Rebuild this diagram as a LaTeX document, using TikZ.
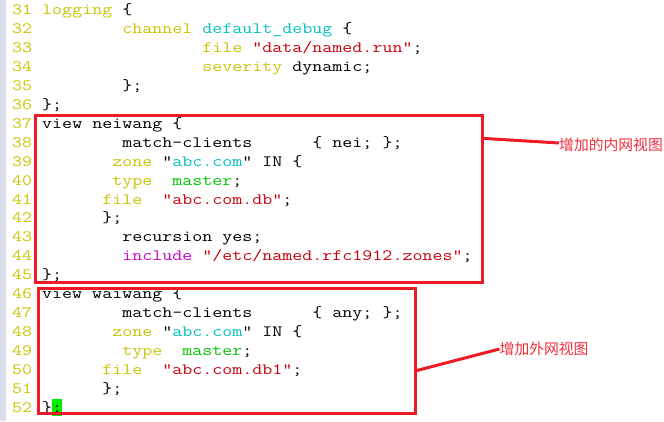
\documentclass[tikz,border=0pt]{standalone}
\usepackage{fontspec}
\newfontfamily\monocode{Latin Modern Mono}[FakeStretch=1.23]
\newfontfamily\cjk{Noto Sans CJK SC}

\definecolor{gutter}{RGB}{215,220,232}
\definecolor{numyel}{RGB}{200,198,0}
\definecolor{kwyel}{RGB}{200,196,0}
\definecolor{idcyan}{RGB}{0,192,192}
\definecolor{strred}{RGB}{200,0,10}
\definecolor{valgreen}{RGB}{0,196,0}
\definecolor{incmag}{RGB}{204,0,204}
\definecolor{boxred}{RGB}{237,28,36}
\definecolor{notered}{RGB}{245,45,60}
\definecolor{cursgreen}{RGB}{0,238,0}

\newcommand\lno[1]{\textcolor{numyel}{#1}}
\newcommand\kwd[1]{\textcolor{kwyel}{#1}}
\newcommand\idf[1]{\textcolor{idcyan}{#1}}
\newcommand\strg[1]{\textcolor{strred}{#1}}
\newcommand\grn[1]{\textcolor{valgreen}{#1}}
\newcommand\incl[1]{\textcolor{incmag}{#1}}
\newcommand\blank[1]{\hspace*{#1\fontdimen2\font}}

\begin{document}
\begin{tikzpicture}[x=1pt,y=-1pt,
	codeline/.style={anchor=base west,inner sep=0pt,font=\monocode\fontsize{15.8}{19}\selectfont},
	viewbox/.style={draw=boxred,line width=3pt,outer sep=0pt,inner sep=0pt},
	noteline/.style={draw=boxred,line width=3pt},
	note/.style={anchor=west,inner sep=0pt,text=notered,font=\cjk\fontsize{14.8}{16}\selectfont}]

\useasboundingbox (0,0) rectangle (664,421);
\fill[white] (0,0) rectangle (664,421);
\fill[gutter] (0,0) rectangle (5.5,421);
\fill[cursgreen] (51.9,399.3) rectangle (61.8,415.8);

\node[codeline] (l31) at (12,14.5)   {\lno{31} \kwd{logging} \{};
\node[codeline] (l32) at (12,33.45)  {\lno{32}\blank{9}\kwd{channel} \idf{default\_debug} \{};
\node[codeline] (l33) at (12,52.4)   {\lno{33}\blank{17}\kwd{file} \strg{"data/named.run"};};
\node[codeline] (l34) at (12,71.35)  {\lno{34}\blank{17}\kwd{severity} dynamic;};
\node[codeline] (l35) at (12,90.3)   {\lno{35}\blank{9}\};};
\node[codeline] (l36) at (12,109.25) {\lno{36} \};};

\node[codeline] (l37) at (12,128.2)  {\lno{37} view neiwang \{};
\node[codeline] (l38) at (12,147.15) {\lno{38}\blank{9}match-clients\blank{6}\{ nei; \};};
\node[codeline] (l39) at (12,166.1)  {\lno{39}\blank{8}\kwd{zone} "\idf{abc.com}" IN \{};
\node[codeline] (l40) at (12,185.05) {\lno{40}\blank{8}\kwd{type}\blank{2}\grn{master};};
\node[codeline] (l41) at (12,204.0)  {\lno{41}\blank{7}\kwd{file}\blank{2}\strg{"abc.com.db"};};
\node[codeline] (l42) at (12,222.95) {\lno{42}\blank{7}\};};
\node[codeline] (l43) at (12,241.9)  {\lno{43}\blank{9}recursion yes;};
\node[codeline] (l44) at (12,260.85) {\lno{44}\blank{9}\incl{include} \strg{"/etc/named.rfc1912.zones"};};
\node[codeline] (l45) at (12,279.8)  {\lno{45} \};};

\node[codeline] (l46) at (12,298.75) {\lno{46} view waiwang \{};
\node[codeline] (l47) at (12,317.7)  {\lno{47}\blank{9}match-clients\blank{6}\{ any; \};};
\node[codeline] (l48) at (12,336.65) {\lno{48}\blank{8}\kwd{zone} "\idf{abc.com}" IN \{};
\node[codeline] (l49) at (12,355.6)  {\lno{49}\blank{9}\kwd{type}\blank{2}\grn{master};};
\node[codeline] (l50) at (12,374.55) {\lno{50}\blank{7}\kwd{file}\blank{2}\strg{"abc.com.db1"};};
\node[codeline] (l51) at (12,393.5)  {\lno{51}\blank{7}\};};
\node[codeline] (l52) at (12,412.45) {\lno{52} \};};

%the two views
\node[viewbox,minimum width=446.7pt,minimum height=167pt] (neibox) at (258.65,198.8) {};
\node[viewbox,minimum width=377.7pt,minimum height=124.7pt] (waibox) at (226.85,351.15) {};

\node[note] (neinote) at (559,145) {增加的内网视图};
\node[note] (wainote) at (499.5,349) {增加外网视图};

\path[noteline] ([yshift=-23pt]neibox.north east) -- ([yshift=2pt]neinote.west)
 ([yshift=-82pt]waibox.north east) -- (wainote.west);

\end{tikzpicture}
\end{document}
